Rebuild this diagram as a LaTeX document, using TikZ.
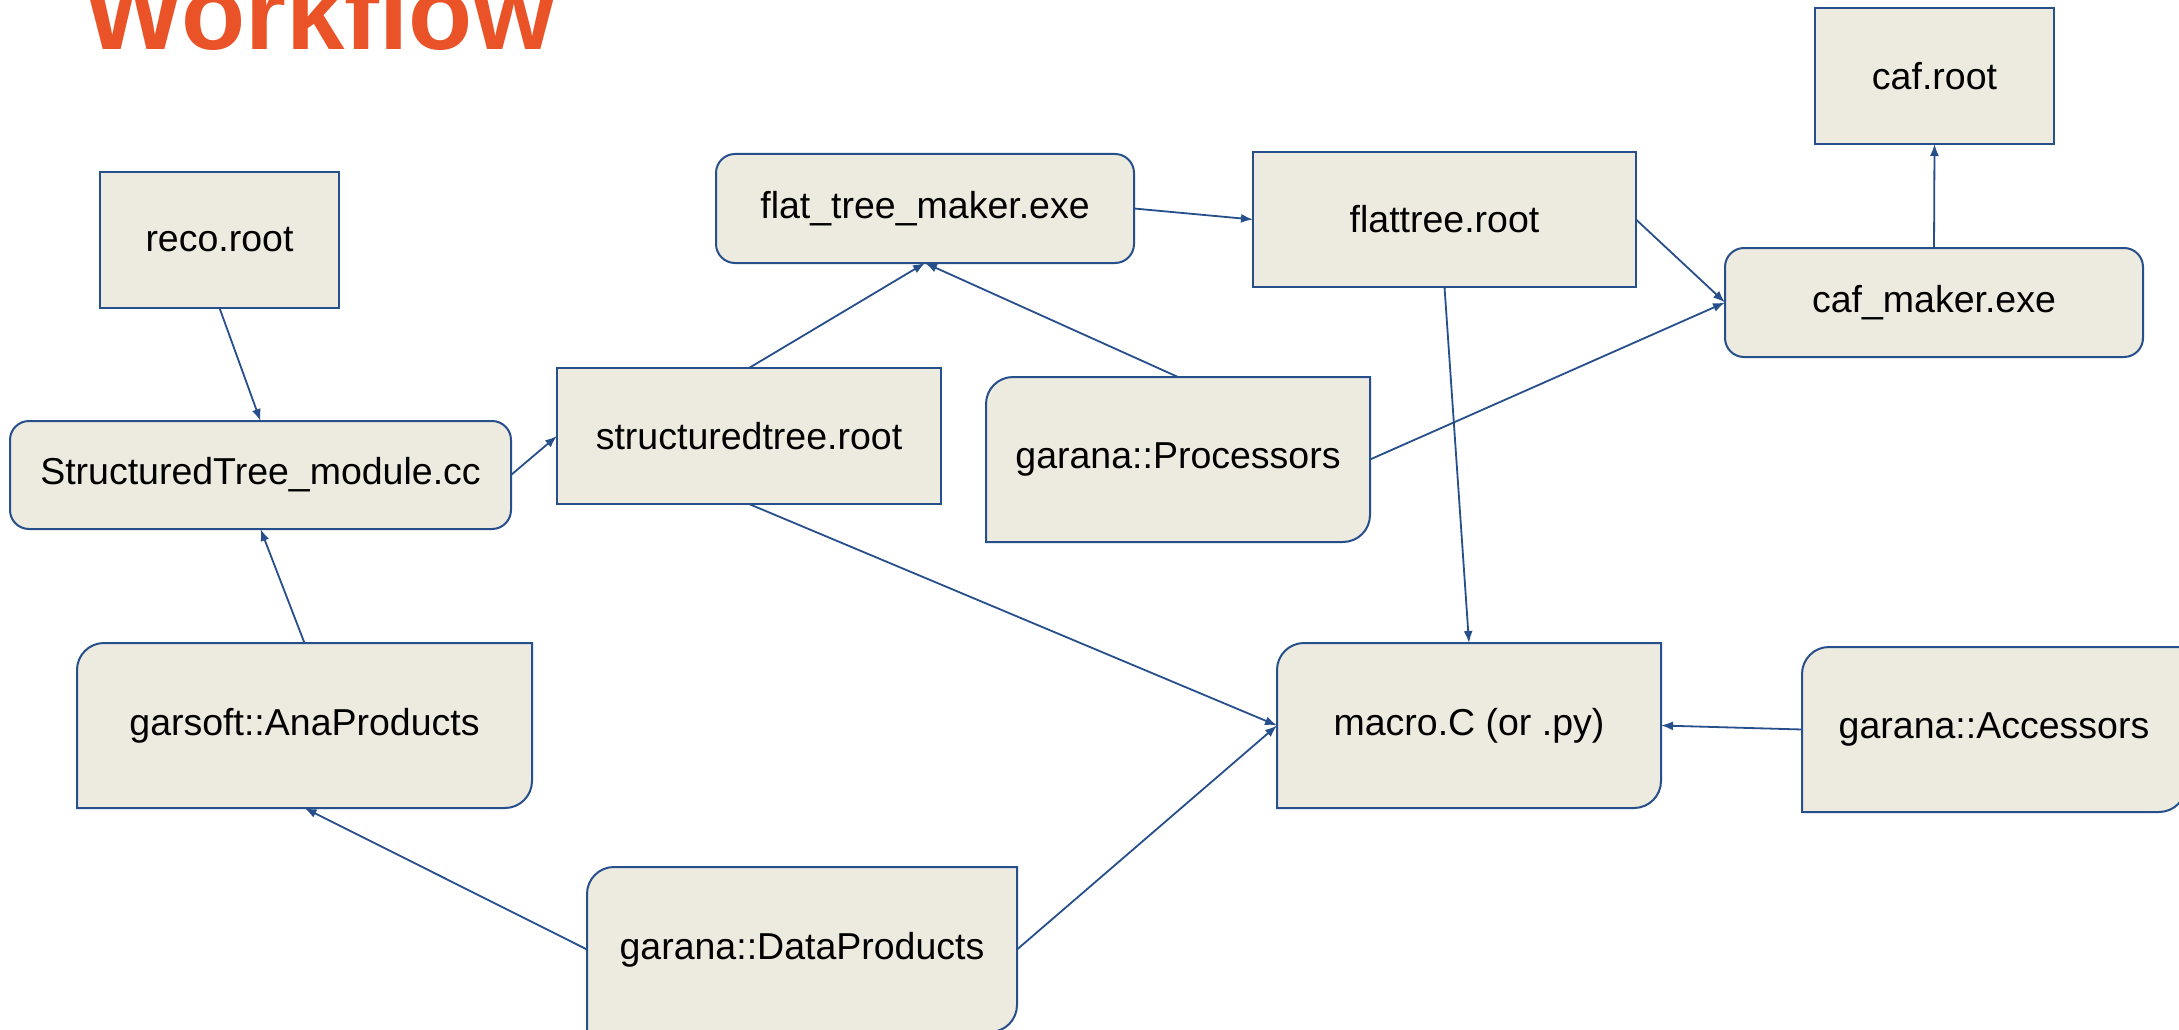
\documentclass[tikz,border=0pt]{standalone}
\usepackage{fontspec}
\setmainfont{Liberation Sans}
\usetikzlibrary{arrows.meta,backgrounds}
\definecolor{edgeblue}{RGB}{38,79,140}
\definecolor{boxfill}{RGB}{237,235,224}
\definecolor{titleorange}{RGB}{234,83,40}
\tikzset{
  lbl/.style={inner sep=0pt, outer sep=0pt, font=\fontsize{37.5}{45}\selectfont, text=black},
  rectbox/.style={lbl, draw=edgeblue, fill=boxfill, line width=2pt},
  roundbox/.style={rectbox, rounded corners=19pt},
  rdnode/.style={lbl},
  rdshape/.style={draw=edgeblue, fill=boxfill, line width=2pt},
  conn/.style={draw=edgeblue, line width=1.8pt, -{Latex[length=12pt,width=9pt]}},
}
\newcommand\rdback[1]{%
  \begin{pgfonlayer}{background}
  \draw[rdshape] (#1.south west) -- ([yshift=-27pt]#1.north west)
    arc[start angle=180,end angle=90,radius=27pt] -- (#1.north east)
    -- ([yshift=27pt]#1.south east)
    arc[start angle=0,end angle=-90,radius=27pt] -- cycle;
  \end{pgfonlayer}}
\begin{document}
\begin{tikzpicture}[x=1pt,y=1pt]
\useasboundingbox (0,0) rectangle (2179,-1030);
\clip (0,0) rectangle (2179,-1030);
\begin{pgfonlayer}{background}
\fill[white] (0,0) rectangle (2179,-1030);
\end{pgfonlayer}

\node[anchor=base west, inner sep=0pt, text=titleorange,
      font=\fontsize{105}{120}\selectfont\bfseries] (title) at (84,-50) {Workflow};

% rectangular boxes
\node[rectbox, minimum width=239pt, minimum height=136pt] (reco) at (219.5,-240) {reco.root};
\node[rectbox, minimum width=384pt, minimum height=136pt] (struct) at (749,-436) {structuredtree.root};
\node[rectbox, minimum width=383pt, minimum height=135pt] (flat) at (1444.5,-219.5) {flattree.root};
\node[rectbox, minimum width=239pt, minimum height=136pt] (caf) at (1934.5,-76) {caf.root};

% rounded boxes
\node[roundbox, minimum width=501pt, minimum height=108pt] (stm) at (260.5,-475) {StructuredTree\_module.cc};
\node[roundbox, minimum width=418pt, minimum height=109pt] (ftm) at (925,-208.5) {flat\_tree\_maker.exe};
\node[roundbox, minimum width=418pt, minimum height=109pt] (cafm) at (1934,-302.5) {caf\_maker.exe};

% round-diagonal boxes
\node[rdnode, minimum width=384pt, minimum height=165pt] (proc) at (1178,-459.5) {garana::Processors};
\rdback{proc}
\node[rdnode, minimum width=384pt, minimum height=165pt] (macro) at (1469,-725.5) {macro.C (or .py)};
\rdback{macro}
\node[rdnode, minimum width=384pt, minimum height=165pt] (acc) at (1994,-729.5) {garana::Accessors};
\rdback{acc}
\node[rdnode, minimum width=455pt, minimum height=165pt] (ana) at (304.5,-725.5) {garsoft::AnaProducts};
\rdback{ana}
\node[rdnode, minimum width=430pt, minimum height=165pt] (data) at (802,-949.5) {garana::DataProducts};
\rdback{data}

% connectors
\draw[conn] (reco.south) -- (stm.north);
\draw[conn] (ana.north) -- (stm.south);
\draw[conn] (stm.east) -- (struct.west);
\draw[conn] (struct.north) -- (ftm.south);
\draw[conn] (proc.north) -- (ftm.south);
\draw[conn] (ftm.east) -- (flat.west);
\draw[conn] (flat.east) -- (cafm.west);
\draw[conn] (proc.east) -- (cafm.west);
\draw[conn] (cafm.north) -- (caf.south);
\draw[conn] (flat.south) -- (macro.north);
\draw[conn] (struct.south) -- (macro.west);
\draw[conn] (data.east) -- (macro.west);
\draw[conn] (data.west) -- (ana.south);
\draw[conn] (acc.west) -- (macro.east);
\end{tikzpicture}
\end{document}
